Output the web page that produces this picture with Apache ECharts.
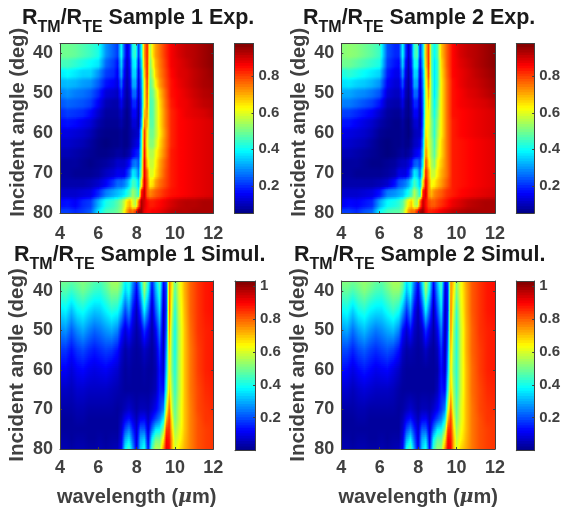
<!DOCTYPE html>
<html><head><meta charset="utf-8">
<style>html,body{margin:0;padding:0;background:#fff}#c{width:563px;height:508px}</style>
<script src="https://cdn.jsdelivr.net/npm/echarts@6/dist/echarts.min.js"></script>
</head><body><div id="c"></div>
<script>
const wavelengthsExp=[4,4.4,4.8,5.2,5.6,6,6.4,6.8,7,7.2,7.35,7.5,7.65,7.8,7.95,8.1,8.25,8.4,8.55,8.7,8.85,9,9.2,9.5,9.8,10.2,10.6,11,11.5,12];
const anglesExp=[40,42.5,45,47.5,50,52.5,55,57.5,60,62.5,65,67.5,70,72.5,75,77.5,80];
const wavelengthsSim=[4,4.3,4.6,4.9,5.2,5.5,5.8,6.1,6.4,6.7,7,7.2,7.4,7.6,7.8,8,8.2,8.4,8.6,8.8,9,9.2,9.4,9.55,9.7,9.85,10,10.2,10.5,10.8,11.2,11.6,12];
const anglesSim=[37.5,40,45,50,55,60,65,70,72.5,75,77.5,80];
const exp1=[
[50,50,49,47,45,42,30,25,22,40,24,13,20,42,45,22,40,72,84,55,66,72,76,82,87,90,92,93,95,97],
[46,46,44,42,40,38,26,22,18,36,20,11,18,38,40,18,36,70,84,52,62,70,75,81,87,89,91,93,95,97],
[38,40,38,36,36,30,22,20,16,32,17,10,16,36,36,15,32,66,84,50,58,68,74,80,86,89,90,92,94,96],
[33,34,33,31,30,25,18,16,14,26,14,9,14,32,32,13,30,62,82,48,54,64,72,79,85,88,90,92,94,95],
[28,30,28,27,25,20,13,12,11,20,12,8,12,26,26,12,28,62,80,47,50,58,68,77,85,87,89,91,93,94],
[24,26,25,24,22,16,10,9,9,15,10,7,10,20,20,10,27,62,78,46,48,56,66,76,84,87,88,90,92,93],
[20,22,21,20,17,12,8,8,8,11,8,6,9,16,16,9,28,68,74,46,48,56,65,75,83,86,88,89,90,92],
[17,18,17,15,13,9,7,7,7,9,7,6,8,13,13,9,32,74,70,48,48,56,65,75,83,86,87,88,89,90],
[14,14,13,12,10,7,6,6,6,7,6,6,8,10,11,12,40,82,64,50,50,56,64,74,83,86,87,88,89,90],
[12,12,11,10,8,6,5,6,6,7,6,6,8,11,13,15,42,84,62,52,52,58,66,75,83,86,87,88,89,90],
[10,10,9,8,7,6,6,7,8,8,7,8,10,15,18,20,44,86,64,56,56,62,68,76,84,86,87,88,89,90],
[8,8,8,7,6,7,8,10,12,12,12,14,18,26,28,24,48,88,68,58,58,64,71,78,84,86,87,88,89,90],
[8,8,7,7,7,8,11,13,15,15,15,20,26,38,36,28,52,88,76,60,60,66,72,79,84,86,87,88,89,90],
[9,9,9,9,10,12,16,22,26,26,28,32,38,46,44,36,62,90,78,64,66,72,76,80,84,86,87,88,89,90],
[12,12,12,13,14,20,28,32,34,36,38,42,46,54,50,44,84,92,78,74,76,78,80,83,85,86,87,88,89,90],
[17,18,16,20,22,33,42,45,48,52,58,66,70,60,56,76,94,90,86,84,84,85,86,88,90,92,93,93,94,94],
[22,22,20,22,25,38,46,48,50,54,62,72,78,76,82,96,96,88,86,86,87,87,88,90,92,93,93,94,94,94]];
const exp2=[
[52,53,52,50,48,45,24,20,20,40,22,12,22,44,48,20,36,68,82,48,40,46,68,78,86,90,92,93,95,97],
[50,50,48,46,44,42,22,18,17,36,18,10,20,40,42,17,34,66,82,48,38,44,66,78,86,89,91,93,95,97],
[42,44,42,40,38,36,19,15,15,30,15,9,17,36,36,14,30,62,80,48,38,44,65,77,86,88,90,92,94,96],
[37,38,36,35,33,30,16,13,13,24,12,8,15,32,32,12,28,60,76,50,38,44,64,76,85,88,90,91,93,95],
[32,32,30,29,27,24,13,11,11,18,10,7,13,26,26,11,26,58,72,50,38,46,64,76,85,87,89,90,92,94],
[28,28,26,24,22,18,10,9,9,14,8,6,11,20,20,10,25,58,68,50,40,48,64,76,85,87,88,89,90,92],
[22,22,20,18,16,12,8,7,7,10,7,6,9,16,16,9,24,60,64,50,42,50,64,76,85,86,87,88,89,90],
[18,18,16,14,12,9,7,6,6,8,6,5,8,12,13,9,25,62,62,52,44,52,64,76,84,86,87,88,89,90],
[15,14,13,12,10,7,6,6,6,7,6,5,7,10,11,11,27,66,60,52,44,54,64,76,84,86,87,88,89,90],
[13,12,11,10,8,6,5,6,6,7,6,6,8,11,12,14,30,70,60,54,46,56,66,76,84,85,86,87,88,89],
[10,10,9,8,7,6,5,6,7,8,7,8,10,14,16,18,34,74,62,54,48,58,66,76,84,85,86,87,88,89],
[8,8,8,7,6,6,7,8,10,11,11,13,17,24,26,22,40,80,66,56,52,62,68,76,84,85,86,87,88,89],
[8,8,7,7,7,7,8,10,14,14,14,18,26,38,36,26,50,84,72,58,58,64,70,76,84,85,86,87,88,89],
[9,9,9,9,9,10,12,18,24,26,28,32,38,46,42,34,64,88,74,62,64,68,72,78,84,85,86,87,88,89],
[12,12,12,13,14,18,28,30,32,34,38,42,46,56,50,42,84,90,74,70,74,76,78,82,84,86,87,88,89,90],
[15,17,16,18,20,32,40,42,44,48,56,64,68,58,54,76,92,86,80,78,78,80,82,85,88,90,92,93,94,94],
[22,22,20,24,26,40,46,48,48,52,62,72,76,76,84,94,96,88,84,84,85,86,88,90,92,93,94,94,94,94]];
const sim1=[
[50,50,48,50,52,50,47,46,50,55,56,50,38,42,28,16,35,58,42,16,34,48,14,20,78,66,50,60,72,80,85,88,89],
[46,47,44,47,50,47,44,43,47,52,52,46,34,40,24,12,30,54,38,12,30,44,10,18,78,64,47,60,72,80,85,88,89],
[36,38,32,38,40,36,33,34,38,42,40,32,20,28,14,6,18,38,24,6,22,36,6,18,80,58,42,58,71,80,85,88,89],
[26,28,22,27,30,26,23,25,28,30,26,16,9,14,8,4,8,18,11,4,12,26,5,22,76,52,40,56,70,79,85,87,88],
[18,18,14,18,20,17,15,17,19,18,14,8,4,6,4,3,4,7,5,3,7,18,6,28,70,50,40,56,70,78,84,87,88],
[12,12,9,12,13,11,10,11,12,10,8,5,3,4,3,3,3,4,3,3,5,14,8,34,66,50,42,56,70,78,84,87,88],
[7,7,6,8,8,7,7,7,7,6,5,4,3,3,3,3,3,3,3,4,6,15,14,42,70,54,44,56,70,78,83,86,87],
[4,4,4,5,5,4,4,4,4,4,3,4,6,8,6,4,6,6,5,8,12,18,26,60,80,58,48,58,70,77,83,85,86],
[3,3,3,4,4,3,3,3,3,3,3,6,12,15,10,6,12,13,7,14,20,26,38,72,84,64,50,58,70,77,82,85,85],
[3,3,3,3,3,3,3,3,3,3,3,8,20,26,16,8,22,22,9,24,36,38,52,84,86,68,54,60,70,77,82,84,85],
[4,4,3,4,4,3,3,4,3,4,4,10,30,36,22,9,30,34,11,38,50,50,66,90,88,72,58,62,71,77,82,84,85],
[5,5,4,5,5,4,4,5,4,5,6,12,38,46,28,10,34,42,14,46,58,56,76,92,90,72,60,66,72,77,82,84,85]];
const sim2=[
[52,52,50,52,54,52,49,48,52,56,56,50,36,42,26,14,34,58,40,14,32,48,12,18,76,68,52,62,74,81,85,88,89],
[48,49,46,49,52,49,46,45,49,53,53,46,32,40,22,10,30,54,36,10,28,44,9,16,76,66,50,62,73,81,85,88,89],
[38,40,34,40,42,38,36,36,40,44,40,30,18,28,12,5,17,38,22,5,20,36,6,16,78,60,44,60,73,81,85,88,89],
[28,30,24,29,32,28,25,27,30,32,26,14,8,14,7,4,7,18,10,4,11,26,5,20,76,54,42,58,72,80,85,87,88],
[20,20,16,20,22,19,17,19,21,19,14,7,4,5,4,3,4,7,4,3,6,18,5,26,70,52,42,58,72,80,84,87,88],
[14,13,10,13,15,13,11,12,13,10,7,4,3,3,3,3,3,3,3,3,4,14,7,32,66,50,43,58,71,79,84,87,88],
[8,8,6,8,9,8,7,7,7,6,4,3,3,3,3,3,3,3,3,3,6,15,13,42,70,54,44,58,71,79,83,86,87],
[4,4,4,5,5,4,4,4,4,4,3,4,6,8,6,4,6,6,5,8,12,18,26,60,80,58,48,60,71,78,83,85,86],
[3,3,3,4,4,3,3,3,3,3,3,6,12,15,10,6,12,13,7,14,20,26,38,72,84,64,50,60,71,78,82,85,85],
[3,3,3,3,3,3,3,3,3,3,3,8,20,26,16,8,22,22,9,24,36,38,52,84,86,68,54,62,71,78,82,84,85],
[4,4,3,4,4,3,3,4,3,4,4,10,30,38,22,9,30,34,11,38,48,48,66,90,88,72,58,64,72,78,82,84,85],
[5,5,4,5,5,4,4,5,4,5,6,12,40,48,28,10,34,42,14,44,54,54,76,92,90,72,60,68,73,78,82,84,85]];
const xTicks=[4,6,8,10,12], yTicks=[40,50,60,70,80];
const expBarTicks=[0.2,0.4,0.6,0.8], simBarTicks=[0.2,0.4,0.6,0.8,1];
const expRange=[0.05,0.98], simRange=[0,1.03];
const FONT='"Liberation Sans"', GREY='#404040';
const panels=[
 {t:'Sample 1 Exp.',x:wavelengthsExp,y:anglesExp,z:exp1,range:expRange,bt:expBarTicks,soft:true,l:60,w:153.3,top:43.5,h:169.7,bl:234.5,bw:19,tx:22,ty:8},
 {t:'Sample 2 Exp.',x:wavelengthsExp,y:anglesExp,z:exp2,range:expRange,bt:expBarTicks,soft:true,l:341.3,w:153.7,top:43.5,h:169.7,bl:516.3,bw:19,tx:303,ty:8},
 {t:'Sample 1 Simul.',x:wavelengthsSim,y:anglesSim,z:sim1,range:simRange,bt:simBarTicks,soft:false,l:60,w:153.3,top:281,h:169.7,bl:235,bw:20,tx:14,ty:245,xl:true},
 {t:'Sample 2 Simul.',x:wavelengthsSim,y:anglesSim,z:sim2,range:simRange,bt:simBarTicks,soft:false,l:341.3,w:153.7,top:281,h:169.7,bl:516.3,bw:20,tx:294,ty:245,xl:true}
];
function clamp(v){return Math.max(0,Math.min(1,v));}
function jet(t){
 const f=c=>Math.round(255*clamp(1.5-Math.abs(4*t-c)));
 return 'rgb('+f(3)+','+f(2)+','+f(1)+')';
}
function colorOf(v,range){return jet(clamp((v-range[0])/(range[1]-range[0])));}
function heatRender(P){
 const nc=P.x.length,nr=P.y.length;
 function band(children,x0,x1,y0,y1,fn){
  const stops=[];
  for(let s=0;s<=4;s++){stops.push({offset:s/4,color:colorOf(fn(s/4),P.range)});}
  children.push({type:'rect',shape:{x:x0,y:y0,width:x1-x0+1,height:y1-y0+1},
   style:{fill:{type:'linear',x:x0,y:0,x2:x1,y2:0,global:true,colorStops:stops}}});
 }
 return function(params,api){
  const i=params.dataIndex,c=i%nc,r=Math.floor(i/nc);
  if(c===nc-1||r===nr-1) return null;
  const x0=api.coord([P.x[c],40])[0],x1=api.coord([P.x[c+1],40])[0];
  const ya=api.coord([4,P.y[r]])[1],yb=api.coord([4,P.y[r+1]])[1];
  const row=k=>P.z[k],ch=[];
  const mix=(a,b,u)=>(a+(b-a)*u)/100;
  if(r===0&&P.y[0]>37.5){
   const yt=api.coord([4,37.5])[1];
   band(ch,x0,x1,yt,ya,u=>mix(row(0)[c],row(0)[c+1],u));
  }
  const n=Math.max(2,Math.round((yb-ya)/2));
  for(let b=0;b<n;b++){
   const t=(b+0.5)/n;
   const w=P.soft?clamp((t-0.5)/0.5+0.5):t;
   band(ch,x0,x1,ya+(yb-ya)*b/n,ya+(yb-ya)*(b+1)/n,u=>{
    const p=row(r)[c]+(row(r)[c+1]-row(r)[c])*u;
    const q=row(r+1)[c]+(row(r+1)[c+1]-row(r+1)[c])*u;
    return (p+(q-p)*w)/100;
   });
  }
  return {type:'group',children:ch};
 };
}
function barRender(P){
 return function(params,api){
  const v=api.value(1),s=(P.range[1]-P.range[0])/64;
  const a=api.coord([0,v+s]),b=api.coord([1,v]);
  return {type:'rect',shape:{x:a[0],y:a[1],width:b[0]-a[0],height:b[1]-a[1]+1},style:{fill:colorOf(v+s/2,P.range)}};
 };
}
const axisBase={z:5,axisLine:{onZero:false,lineStyle:{color:GREY,width:1}},axisTick:{inside:true,length:2,lineStyle:{color:GREY,width:1}},splitLine:{show:false}};
const labelStyle={color:GREY,fontFamily:FONT,fontWeight:'bold',fontSize:18};
const option={animation:false,backgroundColor:'#fff',grid:[],xAxis:[],yAxis:[],series:[],title:[],
 textStyle:{fontFamily:FONT}};
panels.forEach((P,idx)=>{
 const g=option.grid.length;
 option.grid.push({left:P.l,top:P.top,width:P.w,height:P.h,containLabel:false});
 option.grid.push({left:P.bl,top:P.top,width:P.bw,height:P.h,containLabel:false});
 const xi=option.xAxis.length;
 const xb=Object.assign({},axisBase,{type:'value',gridIndex:g,min:4,max:12,
  axisLabel:Object.assign({},labelStyle,{customValues:xTicks,margin:P.xl?10:12}),
  axisTick:Object.assign({},axisBase.axisTick,{customValues:xTicks})});
 if(P.xl){
  xb.name='{a|wavelength (}{m|\u03bc}{a|m)}';xb.nameLocation='middle';xb.nameGap=38;
  xb.nameTextStyle={rich:{a:{fontFamily:FONT,fontWeight:'bold',fontSize:20,color:GREY},m:{fontFamily:'"DejaVu Serif"',fontStyle:'italic',fontSize:19,fontWeight:'bold',color:GREY}}};
 }
 option.xAxis.push(xb);
 option.xAxis.push(Object.assign({},axisBase,{type:'value',gridIndex:g,position:'top',min:4,max:12,
  axisLabel:{show:false},axisTick:Object.assign({},axisBase.axisTick,{customValues:xTicks})}));
 option.xAxis.push({type:'value',gridIndex:g+1,min:0,max:1,show:true,z:5,axisLine:{onZero:false,lineStyle:{color:GREY}},axisTick:{show:false},axisLabel:{show:false},splitLine:{show:false}});
 option.xAxis.push({type:'value',gridIndex:g+1,position:'top',min:0,max:1,z:5,axisLine:{onZero:false,lineStyle:{color:GREY}},axisTick:{show:false},axisLabel:{show:false},splitLine:{show:false}});
 const yi=option.yAxis.length;
 option.yAxis.push(Object.assign({},axisBase,{type:'value',gridIndex:g,inverse:true,min:37.5,max:80,
  name:'Incident angle (deg)',nameLocation:'middle',nameGap:32,nameRotate:90,
  nameTextStyle:{color:GREY,fontFamily:FONT,fontWeight:'bold',fontSize:P.xl?20.5:20,padding:P.xl?0:[0,0,0,12]},
  axisLabel:Object.assign({},labelStyle,{customValues:yTicks,margin:7,padding:[3,0,0,0]}),
  axisTick:Object.assign({},axisBase.axisTick,{customValues:yTicks})}));
 option.yAxis.push(Object.assign({},axisBase,{type:'value',gridIndex:g,position:'right',inverse:true,min:37.5,max:80,
  axisLabel:{show:false},axisTick:Object.assign({},axisBase.axisTick,{customValues:yTicks})}));
 option.yAxis.push(Object.assign({},axisBase,{type:'value',gridIndex:g+1,position:'right',min:P.range[0],max:P.range[1],
  axisLabel:Object.assign({},labelStyle,{fontSize:15,margin:5,padding:[3,0,0,0],customValues:P.bt,formatter:v=>String(+v.toFixed(1))}),
  axisTick:Object.assign({},axisBase.axisTick,{customValues:P.bt})}));
 option.yAxis.push(Object.assign({},axisBase,{type:'value',gridIndex:g+1,position:'left',min:P.range[0],max:P.range[1],
  axisLabel:{show:false},axisTick:{show:false}}));
 const cells=[];
 P.y.forEach((a,r)=>P.x.forEach((w,c)=>cells.push([w,a,P.z[r][c]/100])));
 option.series.push({type:'custom',coordinateSystem:'cartesian2d',xAxisIndex:xi,yAxisIndex:yi,clip:true,silent:true,
  encode:{x:0,y:1},data:cells,renderItem:heatRender(P),progressive:0});
 const levels=[];
 for(let k=0;k<64;k++)levels.push([0.5,P.range[0]+(P.range[1]-P.range[0])*k/64]);
 option.series.push({type:'custom',coordinateSystem:'cartesian2d',xAxisIndex:xi+2,yAxisIndex:yi+2,clip:true,silent:true,
  encode:{x:0,y:1},data:levels,renderItem:barRender(P),progressive:0});
 option.title.push({left:P.tx,top:P.ty,padding:0,
  text:'{a|R}{b|TM}{a|/R}{b|TE}{a| '+P.t+'}',
  textStyle:{rich:{a:{fontFamily:FONT,fontWeight:'bold',fontSize:21.5,color:'#1a1a1a',height:20,lineHeight:20,verticalAlign:'top'},
   b:{fontFamily:FONT,fontWeight:'bold',fontSize:16,color:'#1a1a1a',height:14,lineHeight:27,verticalAlign:'bottom'}}}});
});
const chart=echarts.init(document.getElementById('c'),null,{renderer:'canvas',width:563,height:508});
chart.setOption(option);
</script></body></html>
